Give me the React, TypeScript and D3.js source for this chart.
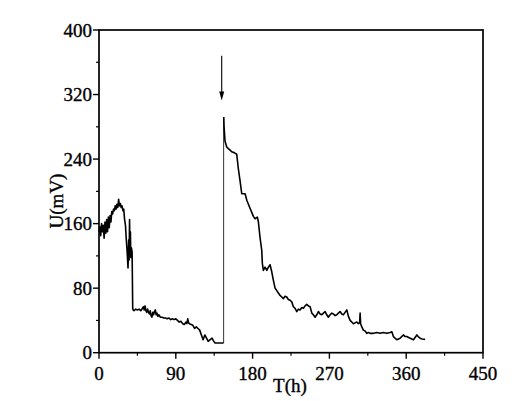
import React from "react";
import * as d3 from "d3";

// time (h) and potential (mV)
const seg1T = [0, 1, 2, 3, 4, 5, 6, 7, 8, 9, 10, 11, 12, 13, 14, 15, 16, 17, 18, 19, 20, 21, 22, 23, 24, 25, 26, 27, 28, 29, 30, 31, 32, 33, 34, 34.8, 35.3, 35.8, 36.3, 36.8, 37.3, 38, 38.8, 39.5, 40, 41, 43, 45, 47, 49, 51, 52, 53, 54, 55, 56, 57, 58, 59, 60, 61, 62, 63, 64, 65, 66, 67, 68, 69, 70, 72, 74, 76, 78, 80, 82, 84, 86, 88, 90, 92, 94, 96, 98, 100, 102, 103, 104, 105, 106, 108, 110, 112, 114, 116, 118, 120, 122, 124, 126, 128, 130, 132.5, 134, 136, 138, 140, 142, 144, 146];
const seg1V = [150, 156, 145, 160, 150, 158, 142, 162, 148, 165, 150, 168, 155, 170, 162, 175, 172, 178, 176, 182, 178, 184, 180, 190, 182, 185, 180, 182, 176, 178, 165, 158, 140, 125, 105, 140, 115, 165, 128, 150, 118, 130, 125, 55, 53, 52, 54, 53, 54, 52, 55, 57, 53, 58, 52, 50, 54, 50, 48, 52, 46, 44, 50, 47, 51, 53, 47, 49, 45, 47, 44, 44, 43, 43, 42, 43, 41, 42, 41, 42, 40, 38, 39, 36, 35, 38, 36, 42, 37, 36, 35, 34, 30, 32, 30, 28, 22, 16, 22, 18, 14, 16, 18, 15, 12, 12, 12, 12, 12, 12];

const seg2T = [146.2, 146.5, 147.7, 149.7, 151.6, 153.6, 155.6, 158.3, 161.4, 163.3, 165.3, 167.3, 169.2, 171.2, 173.2, 175.1, 177, 179, 180.9, 182.9, 185.6, 186.8, 188.7, 190.7, 191.4, 192.6, 194.6, 196.6, 198.5, 200.5, 202.5, 204.3, 206.3, 208.3, 210.2, 212.2, 214.2, 216.1, 218, 220, 221.9, 223.9, 225.9, 227.8, 229.8, 231.8, 233.7, 235.6, 237.6, 239.5, 241.5, 243.5, 245.4, 247.4, 249.4, 251.2, 253.2, 255.2, 257.1, 259.1, 261.1, 263, 265, 266.9, 268.8, 270.8, 272.8, 274.7, 276.7, 278.7, 280.5, 282.5, 284.5, 286.4, 288.4, 290.4, 292.3, 294.3, 296.2, 298.1, 300.1, 302.1, 304, 305.4, 306, 306.6, 308, 309.8, 311.8, 313.8, 315.7, 317.7, 321.6, 325.6, 329.4, 333.3, 337.3, 341.2, 343.2, 345, 349, 352.9, 356.7, 358.7, 360.7, 364.6, 368.5, 372.5, 374, 376.3, 378.7, 382.2];
const seg2V = [292, 281, 262, 255, 253, 251, 249, 248, 246, 228, 213, 197, 197, 197, 189, 184, 179, 174, 169, 166, 168, 162, 143, 127, 111, 102, 106, 102, 106, 109, 100, 90, 80, 77, 74, 71, 69, 67, 70, 69, 66, 65, 63, 57, 55, 51, 54, 53, 56, 55, 58, 60, 58, 57, 49, 47, 44, 47, 51, 48, 47, 49, 51, 47, 44, 47, 49, 48, 46, 47, 49, 51, 48, 47, 50, 53, 45, 40, 38, 36, 37, 38, 36, 37, 49, 36, 32, 28, 27, 24, 25, 24, 24, 25, 24, 25, 24, 25, 26, 20, 16, 18, 22, 20, 20, 18, 16, 22, 20, 18, 17, 16.5];

// annotation arrow (time, start value, end value)
const arrowT = [143.8];
const arrowV = [368, 312.5];

const xMajor = [0, 90, 180, 270, 360, 450];
const xMinor = [45, 135, 225, 315, 405];
const yMajor = [0, 80, 160, 240, 320, 400];
const yMinor = [40, 120, 200, 280, 360];

const xLabel = "T(h)";
const yLabel = "U(mV)";

export default function App() {
  const W = 521, H = 401;
  const x = d3.scaleLinear().domain([0, 450]).range([99, 483]);
  const y = d3.scaleLinear().domain([0, 400]).range([352.7, 30]);
  const line = d3.line<[number, number]>().x(d => x(d[0])).y(d => y(d[1]));
  const p1 = line(seg1T.map((t, i) => [t, seg1V[i]]))!;
  const p2 = line(seg2T.map((t, i) => [t, seg2V[i]]))!;
  const jump = line([
    [seg1T[seg1T.length - 1], seg1V[seg1V.length - 1]],
    [seg1T[seg1T.length - 1], seg2V[0]],
  ])!;
  const font = "'Liberation Serif', 'Times New Roman', serif";
  const ax = x(arrowT[0]);
  const ay0 = y(arrowV[0]);
  const ay1 = y(arrowV[1]);
  const txt = { fontFamily: font, fontSize: 19, stroke: "#000", strokeWidth: 0.35 } as const;
  return (
    <svg width={W} height={H} style={{ position: "absolute", left: 0, top: 0, background: "#fff" }}>
      <rect x={0} y={0} width={W} height={H} fill="#fff" />
      <path d={jump} fill="none" stroke="#444" strokeWidth={1.1} />
      <path d={p1} fill="none" stroke="#000" strokeWidth={1.6} strokeLinejoin="round" />
      <path d={p2} fill="none" stroke="#000" strokeWidth={1.6} strokeLinejoin="round" />
      {/* arrow */}
      <line x1={ax} x2={ax} y1={ay0} y2={ay1 - 7} stroke="#000" strokeWidth={1.1} />
      <path d={`M${ax - 2.5},${ay1 - 9} L${ax + 2.5},${ay1 - 9} L${ax},${ay1} Z`} fill="#000" />
      {/* frame */}
      <rect x={x(0)} y={y(400)} width={x(450) - x(0)} height={y(0) - y(400)} fill="none" stroke="#000" strokeWidth={1.7} />
      {/* y ticks */}
      {yMajor.map(v => (
        <g key={"ym" + v}>
          <line x1={x(0) - 6} x2={x(0)} y1={y(v)} y2={y(v)} stroke="#000" strokeWidth={1.4} />
          <text x={x(0) - 7} y={y(v)} dy="0.35em" textAnchor="end" {...txt}>{v}</text>
        </g>
      ))}
      {yMinor.map(v => (
        <line key={"yn" + v} x1={x(0) - 3} x2={x(0)} y1={y(v)} y2={y(v)} stroke="#000" strokeWidth={1.2} />
      ))}
      {/* x ticks */}
      {xMajor.map(v => (
        <g key={"xm" + v}>
          <line x1={x(v)} x2={x(v)} y1={y(0)} y2={y(0) + 6} stroke="#000" strokeWidth={1.4} />
          <text x={x(v)} y={380} textAnchor="middle" {...txt}>{v}</text>
        </g>
      ))}
      {xMinor.map(v => (
        <line key={"xn" + v} x1={x(v)} x2={x(v)} y1={y(0)} y2={y(0) + 3} stroke="#000" strokeWidth={1.2} />
      ))}
      <text x={290} y={392} textAnchor="middle" {...txt}>{xLabel}</text>
      <text transform={`translate(63,201) rotate(-90)`} textAnchor="middle" {...txt}>{yLabel}</text>
    </svg>
  );
}
